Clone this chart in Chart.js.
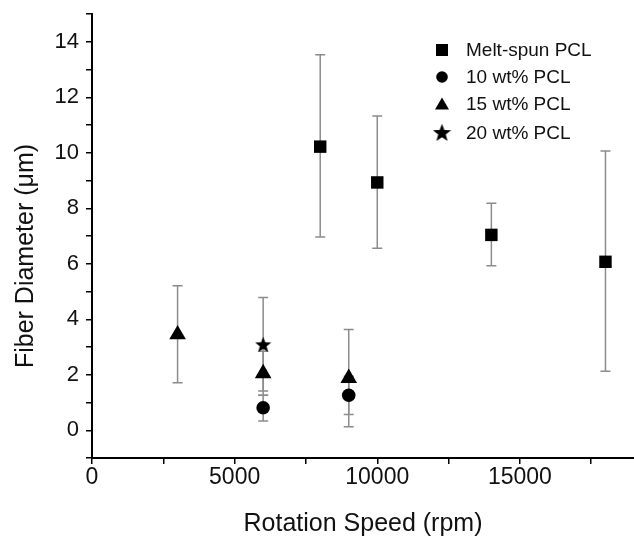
<!DOCTYPE html>
<html>
<head>
<meta charset="utf-8">
<script src="https://cdn.jsdelivr.net/npm/chart.js@4/dist/chart.umd.min.js"></script>
<style>
  body { margin: 0; background: #fff; }
  canvas { display: block; }
</style>
</head>
<body>
<canvas id="myChart" width="634" height="537"></canvas>
<script>
// valores
const labels = ["Melt-spun PCL", "10 wt% PCL", "15 wt% PCL", "20 wt% PCL"];

const meltX = [8000, 10000, 14000, 18000];
const meltY = [10.22, 8.93, 7.04, 6.07];
const meltLo = [6.96, 6.56, 5.93, 2.13];
const meltHi = [13.53, 11.32, 8.18, 10.06];

const pcl10X = [6000, 9000];
const pcl10Y = [0.81, 1.26];
const pcl10Lo = [0.33, 0.57];
const pcl10Hi = [1.26, 1.95];

const pcl15X = [3000, 6000, 9000];
const pcl15Y = [3.45, 2.05, 1.88];
const pcl15Lo = [1.71, 1.26, 0.13];
const pcl15Hi = [5.21, 2.85, 3.63];

const pcl20X = [6000];
const pcl20Y = [3.09];
const pcl20Lo = [1.41];
const pcl20Hi = [4.78];

// marcas del eje x (mayores cada 5000, menores cada 2500)
const xTicks = [0, 2500, 5000, 7500, 10000, 12500, 15000, 17500];

const FONT = "'Liberation Sans', Arial, sans-serif";

// estrella rellena de 5 puntas
const makeStar = (size) => {
  const c = document.createElement("canvas");
  c.width = size;
  c.height = size;
  const g = c.getContext("2d");
  const cx = size / 2, cy = size / 2 + size * 0.04;
  const rOut = size / 2, rIn = rOut * 0.42;
  g.beginPath();
  for (let i = 0; i < 10; i++) {
    const r = i % 2 === 0 ? rOut : rIn;
    const a = -Math.PI / 2 + (i * Math.PI) / 5;
    g.lineTo(cx + r * Math.cos(a), cy + r * Math.sin(a));
  }
  g.closePath();
  g.fillStyle = "#000";
  g.fill();
  return c;
};
const starPoint = makeStar(17);
const starLegend = makeStar(19);

const toPoints = (xs, ys, lo, hi) => {
  let pts = [];
  for (let i = 0; i < xs.length; i++) {
    pts.push({ x: xs[i], y: ys[i], lo: lo[i], hi: hi[i] });
  }
  return pts;
};

const errorBars = {
  id: "errorBars",
  beforeDatasetsDraw(chart) {
    const { ctx, scales: { x, y } } = chart;
    ctx.save();
    ctx.strokeStyle = "#8c8c8c";
    ctx.lineWidth = 1.5;
    chart.data.datasets.forEach((ds) => {
      ds.data.forEach((p) => {
        const px = x.getPixelForValue(p.x);
        const top = y.getPixelForValue(p.hi);
        const bot = y.getPixelForValue(p.lo);
        ctx.beginPath();
        ctx.moveTo(px, top);
        ctx.lineTo(px, bot);
        ctx.moveTo(px - 5, top);
        ctx.lineTo(px + 5, top);
        ctx.moveTo(px - 5, bot);
        ctx.lineTo(px + 5, bot);
        ctx.stroke();
      });
    });
    ctx.restore();
  },
};

const legendBox = {
  id: "legendBox",
  afterDraw(chart) {
    const { ctx, chartArea } = chart;
    const mx = chartArea.right - 192;
    const tx = chartArea.right - 168;
    const rows = [50, 77, 104, 133];
    ctx.save();
    ctx.fillStyle = "#000";
    ctx.font = "19px " + FONT;
    ctx.textBaseline = "middle";
    labels.forEach((lab, i) => {
      const yy = rows[i];
      ctx.beginPath();
      if (i === 0) {
        ctx.fillRect(mx - 6, yy - 6, 12, 12);
      } else if (i === 1) {
        ctx.arc(mx, yy, 5.8, 0, Math.PI * 2);
        ctx.fill();
      } else if (i === 2) {
        ctx.moveTo(mx, yy - 6.5);
        ctx.lineTo(mx + 7, yy + 5.5);
        ctx.lineTo(mx - 7, yy + 5.5);
        ctx.closePath();
        ctx.fill();
      } else {
        ctx.drawImage(starLegend, mx - 9.5, yy - 10);
      }
      ctx.fillStyle = "#111";
      ctx.fillText(lab, tx, yy + 1);
      ctx.fillStyle = "#000";
    });
    // titulo del eje y
    ctx.translate(26, 256);
    ctx.rotate(-Math.PI / 2);
    ctx.textAlign = "center";
    ctx.font = "25px " + FONT;
    ctx.fillStyle = "#111";
    ctx.fillText("Fiber Diameter (\u03bcm)", 0, 0);
    ctx.restore();
  },
};

const ctx = document.getElementById("myChart");

const data = {
  datasets: [
    {
      label: labels[0],
      data: toPoints(meltX, meltY, meltLo, meltHi),
      pointStyle: "rect",
      pointRadius: 8.8,
      backgroundColor: "#000",
      borderColor: "#000",
      borderWidth: 0,
    },
    {
      label: labels[1],
      data: toPoints(pcl10X, pcl10Y, pcl10Lo, pcl10Hi),
      pointStyle: "circle",
      pointRadius: 6.8,
      backgroundColor: "#000",
      borderColor: "#000",
      borderWidth: 0,
    },
    {
      label: labels[2],
      data: toPoints(pcl15X, pcl15Y, pcl15Lo, pcl15Hi),
      pointStyle: "triangle",
      pointRadius: 9.6,
      backgroundColor: "#000",
      borderColor: "#000",
      borderWidth: 0,
    },
    {
      label: labels[3],
      data: toPoints(pcl20X, pcl20Y, pcl20Lo, pcl20Hi),
      pointStyle: starPoint,
      backgroundColor: "#000",
      borderColor: "#000",
    },
  ],
};

new Chart(ctx, {
  type: "scatter",
  data: data,
  options: {
    responsive: false,
    animation: false,
    layout: { autoPadding: false, padding: { top: 14, right: 0, left: 0, bottom: 0 } },
    plugins: {
      legend: { display: false },
      tooltip: { enabled: false },
    },
    scales: {
      x: {
        type: "linear",
        min: 0,
        max: 19000,
        afterFit: (s) => { s.height = 79; },
        afterBuildTicks: (s) => {
          s.ticks = xTicks.map((v) => ({ value: v }));
        },
        ticks: {
          autoSkip: false,
          maxRotation: 0,
          padding: 0,
          color: "#111",
          font: { family: FONT, size: 23 },
          callback: (v) => (v % 5000 === 0 ? String(v) : ""),
        },
        grid: {
          drawOnChartArea: false,
          drawTicks: true,
          tickLength: 6,
          color: "#000",
          lineWidth: 1.5,
        },
        border: { display: true, color: "#000", width: 2 },
        title: {
          display: true,
          text: "Rotation Speed (rpm)",
          color: "#111",
          font: { family: FONT, size: 25, lineHeight: 1 },
          padding: { top: 4, bottom: 0 },
        },
      },
      y: {
        min: -1,
        max: 15,
        afterFit: (s) => {
          s.width = 92;
          s.paddingTop = 0;
          s.paddingBottom = 0;
        },
        ticks: {
          stepSize: 1,
          autoSkip: false,
          padding: 7,
          color: "#111",
          font: { family: FONT, size: 22 },
          callback: (v) => (v >= 0 && v <= 14 && v % 2 === 0 ? String(v) : ""),
        },
        grid: {
          drawOnChartArea: false,
          drawTicks: true,
          tickLength: 6,
          color: "#000",
          lineWidth: 1.5,
        },
        border: { display: true, color: "#000", width: 2 },
      },
    },
  },
  plugins: [errorBars, legendBox],
});
</script>
</body>
</html>
